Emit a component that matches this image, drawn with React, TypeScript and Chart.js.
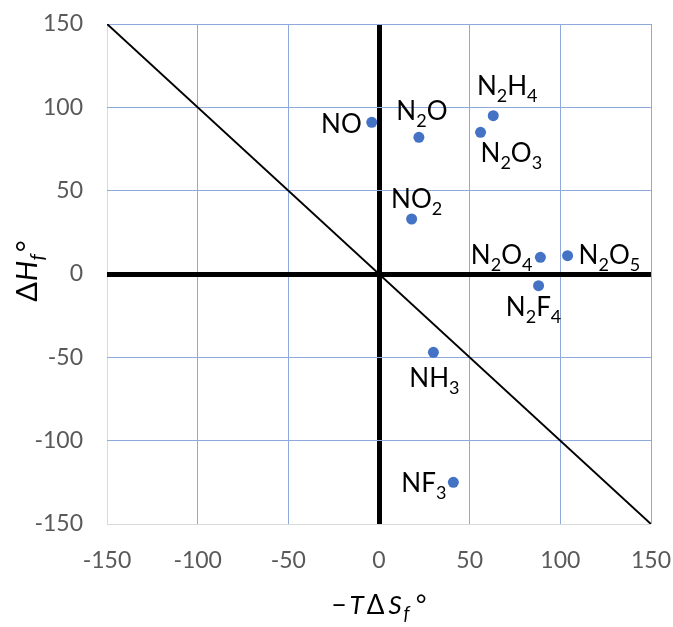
import React, { useEffect, useRef } from 'react';
import { Chart, registerables } from 'chart.js';

Chart.register(...registerables);

// ---- data ----
const COMPOUNDS = ['NO', 'N_2O', 'N_2H_4', 'N_2O_3', 'NO_2', 'N_2O_4', 'N_2O_5', 'N_2F_4', 'NH_3', 'NF_3'];
const NEG_T_DELTA_S = [-4, 22, 63, 56, 18, 89, 104, 88, 30, 41];
const DELTA_H = [91, 82, 95, 85, 33, 10, 11, -7, -47, -125];
const AXIS_MIN = -150;
const AXIS_MAX = 150;
const AXIS_STEP = 50;
const DIAGONAL_X = [-150, 150];
const DIAGONAL_Y = [150, -150];

// label placement (style): alignment and pixel nudge from the point
const LABEL_ALIGN = ['right', 'center', 'center', 'left', 'center', 'right', 'left', 'center', 'center', 'right'];
const LABEL_DX = [-10, 3, 14, 0, 5, -8, 11, -5, 1, -7];
const LABEL_DY = [1, -27, -30, 20, -20, -3, -1, 21, 25, 0];

const FONT = 'Lato';
const GRID_BLUE = '#8eaadb';
const BORDER_GRAY = '#d9d9d9';
const POINT_BLUE = '#4472c4';

type Seg = { text: string; size: number; italic?: boolean; dy?: number; gap?: number };

function parseFormula(s: string, main: number, sub: number): Seg[] {
  const segs: Seg[] = [];
  let i = 0;
  while (i < s.length) {
    if (s[i] === '_') {
      segs.push({ text: s[i + 1], size: sub, dy: 7 });
      i += 2;
    } else {
      let j = i;
      while (j < s.length && s[j] !== '_') j++;
      segs.push({ text: s.slice(i, j), size: main });
      i = j;
    }
  }
  return segs;
}

function fontOf(seg: Seg) {
  return `${seg.italic ? 'italic ' : ''}${seg.size}px ${FONT}`;
}

function measureSegs(ctx: CanvasRenderingContext2D, segs: Seg[]) {
  let w = 0;
  segs.forEach((s, k) => {
    ctx.font = fontOf(s);
    w += ctx.measureText(s.text).width + (k < segs.length - 1 ? s.gap || 0 : 0);
  });
  return w;
}

function drawSegs(ctx: CanvasRenderingContext2D, segs: Seg[], x: number, baseline: number, color: string) {
  let cx = x;
  ctx.fillStyle = color;
  ctx.textAlign = 'left';
  ctx.textBaseline = 'alphabetic';
  segs.forEach((s) => {
    ctx.font = fontOf(s);
    ctx.fillText(s.text, cx, baseline + (s.dy || 0));
    cx += ctx.measureText(s.text).width + (s.gap || 0);
  });
}

const labelPlugin = {
  id: 'formulaLabels',
  afterDatasetsDraw(chart: any) {
    const ctx: CanvasRenderingContext2D = chart.ctx;
    const meta = chart.getDatasetMeta(1);
    ctx.save();
    meta.data.forEach((pt: any, i: number) => {
      const segs = parseFormula(COMPOUNDS[i], 26, 18);
      const w = measureSegs(ctx, segs);
      const ax = pt.x + LABEL_DX[i];
      const ay = pt.y + LABEL_DY[i];
      let left = ax;
      if (LABEL_ALIGN[i] === 'center') left = ax - w / 2;
      else if (LABEL_ALIGN[i] === 'right') left = ax - w;
      drawSegs(ctx, segs, left, ay + 9.4, '#000');
    });
    ctx.restore();
  },
};

const titlePlugin = {
  id: 'axisTitles',
  afterDraw(chart: any) {
    const ctx: CanvasRenderingContext2D = chart.ctx;
    const area = chart.chartArea;
    ctx.save();
    // x title: −TΔS_f°
    const xs: Seg[] = [
      { text: '\u2212', size: 26, gap: 3 },
      { text: 'T', size: 26, italic: true, gap: 3 },
      { text: '\u0394', size: 26, gap: 4 },
      { text: 'S', size: 26, italic: true, gap: 2 },
      { text: 'f', size: 19, italic: true, dy: 6, gap: 6 },
      { text: '\u00b0', size: 26 },
    ];
    const xw = measureSegs(ctx, xs);
    drawSegs(ctx, xs, (area.left + area.right) / 2 - xw / 2, 614, '#000');

    // y title: ΔH_f°
    const ys: Seg[] = [
      { text: '\u0394', size: 29, gap: 1 },
      { text: 'H', size: 29, italic: true, gap: 0 },
      { text: 'f', size: 20, italic: true, dy: 7, gap: 2 },
      { text: '\u00b0', size: 29 },
    ];
    const yw = measureSegs(ctx, ys);
    ctx.translate(37, (area.top + area.bottom) / 2 - 3);
    ctx.rotate(-Math.PI / 2);
    drawSegs(ctx, ys, -yw / 2, 0, '#000');
    ctx.restore();
  },
};

export default function App() {
  const ref = useRef<HTMLCanvasElement>(null);

  useEffect(() => {
    if (!ref.current) return;
    const gridColor = (ctx: any) => {
      const v = ctx.tick?.value;
      if (v === 0) return '#000000';
      if (v === AXIS_MIN) return BORDER_GRAY;
      return GRID_BLUE;
    };
    const gridWidth = (ctx: any) => (ctx.tick?.value === 0 ? 5 : 1);

    const chart = new Chart(ref.current, {
      type: 'scatter',
      data: {
        datasets: [
          {
            label: 'diagonal',
            data: DIAGONAL_X.map((x, i) => ({ x, y: DIAGONAL_Y[i] })),
            showLine: true,
            borderColor: '#000000',
            borderWidth: 2,
            pointRadius: 0,
            order: 2,
          },
          {
            label: 'compounds',
            data: NEG_T_DELTA_S.map((x, i) => ({ x, y: DELTA_H[i] })),
            backgroundColor: POINT_BLUE,
            borderColor: POINT_BLUE,
            borderWidth: 0,
            pointRadius: 5.5,
            order: 1,
          },
        ],
      },
      options: {
        animation: false,
        responsive: false,
        maintainAspectRatio: false,
        layout: { padding: { top: 24, right: 22, left: 0, bottom: 0 } },
        plugins: { legend: { display: false }, tooltip: { enabled: false }, title: { display: false } },
        scales: {
          x: {
            type: 'linear',
            min: AXIS_MIN,
            max: AXIS_MAX,
            border: { display: false },
            grid: { color: gridColor, lineWidth: gridWidth, drawTicks: false },
            ticks: { stepSize: AXIS_STEP, padding: 23, color: '#595959', font: { family: FONT, size: 23 } },
            afterFit: (s: any) => {
              s.height = 103;
              s.paddingLeft = 0;
              s.paddingRight = 0;
            },
          },
          y: {
            type: 'linear',
            min: AXIS_MIN,
            max: AXIS_MAX,
            border: { display: false },
            grid: { color: gridColor, lineWidth: gridWidth, drawTicks: false },
            ticks: { stepSize: AXIS_STEP, padding: 24, color: '#595959', font: { family: FONT, size: 23 } },
            afterFit: (s: any) => {
              s.width = 107;
              s.paddingTop = 0;
              s.paddingBottom = 0;
            },
          },
        },
      },
      plugins: [labelPlugin, titlePlugin],
    });
    return () => chart.destroy();
  }, []);

  return (
    <div style={{ position: 'fixed', left: 0, top: 0, width: 673, height: 627, background: '#fff' }}>
      <canvas ref={ref} width={673} height={627} style={{ width: 673, height: 627, display: 'block' }} />
    </div>
  );
}
